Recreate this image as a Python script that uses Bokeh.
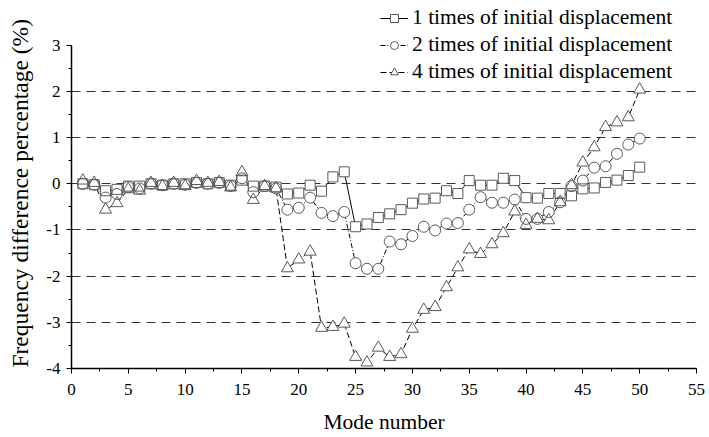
from bokeh.plotting import figure
from bokeh.models import (Range1d, SingleIntervalTicker, FixedTicker, Legend, LegendItem,
                          PrintfTickFormatter)
from bokeh.embed import file_html
from bokeh.resources import INLINE

modes = list(range(1, 51))
s1 = [0.0, -0.02, -0.15, -0.12, -0.05, -0.05, 0.0, -0.03, 0.0, 0.0,
      0.03, 0.0, 0.03, -0.03, 0.08, -0.05, -0.05, -0.07, -0.22, -0.2,
      -0.03, -0.16, 0.15, 0.26, -0.93, -0.87, -0.73, -0.65, -0.56, -0.42,
      -0.33, -0.31, -0.15, -0.21, 0.07, -0.03, -0.03, 0.12, 0.07, -0.3,
      -0.31, -0.21, -0.21, -0.26, -0.11, -0.09, 0.03, 0.08, 0.18, 0.36]
s2 = [0.0, -0.02, -0.3, -0.22, -0.07, -0.1, 0.0, -0.03, 0.0, -0.02,
      0.02, 0.0, 0.02, -0.05, 0.12, -0.18, -0.05, -0.1, -0.56, -0.52,
      -0.3, -0.63, -0.7, -0.61, -1.72, -1.84, -1.84, -1.25, -1.31, -1.13,
      -0.93, -1.01, -0.86, -0.85, -0.56, -0.29, -0.41, -0.41, -0.34, -0.76,
      -0.76, -0.61, -0.4, -0.05, 0.07, 0.35, 0.38, 0.65, 0.85, 0.98]
s3 = [0.07, 0.02, -0.56, -0.42, -0.12, -0.15, 0.02, -0.05, 0.02, -0.05,
      0.06, 0.02, 0.04, -0.08, 0.25, -0.35, -0.05, -0.1, -1.83, -1.64,
      -1.47, -3.12, -3.1, -3.03, -3.75, -3.87, -3.55, -3.75, -3.69, -3.14,
      -2.73, -2.67, -2.24, -1.81, -1.42, -1.52, -1.31, -1.07, -0.6, -0.89,
      -0.76, -0.79, -0.4, -0.03, 0.46, 0.79, 1.23, 1.33, 1.44, 2.04]
labels = ["1 times of initial displacement",
          "2 times of initial displacement",
          "4 times of initial displacement"]
x_title = "Mode number"
y_title = "Frequency difference percentage (%)"

FONT = "Liberation Serif"

p = figure(width=708, height=436, output_backend="svg", toolbar_location=None,
           x_range=Range1d(0, 55), y_range=Range1d(-4, 3.97),
           min_border_left=71, min_border_right=12, min_border_top=0,
           min_border_bottom=61)
p.outline_line_color = None
p.background_fill_color = "white"

# grid
p.xgrid.visible = False
p.ygrid.ticker = FixedTicker(ticks=[-3, -2, -1, 0, 1, 2])
p.ygrid.grid_line_color = "#333333"
p.ygrid.grid_line_width = 1
p.ygrid.grid_line_dash = "9 6"

# axes
p.xaxis.ticker = SingleIntervalTicker(interval=5, num_minor_ticks=2)
p.yaxis.ticker = SingleIntervalTicker(interval=1, num_minor_ticks=2)
p.yaxis.formatter = PrintfTickFormatter(format="%d")
p.yaxis.bounds = (-4, 3)
for ax in (p.xaxis, p.yaxis):
    ax.axis_line_color = "black"
    ax.axis_line_width = 1.5
    ax.major_tick_line_color = "black"
    ax.minor_tick_line_color = "black"
    ax.major_tick_in = 0
    ax.major_tick_out = 5
    ax.minor_tick_in = 0
    ax.minor_tick_out = 3
    ax.major_label_text_font = FONT
    ax.major_label_text_font_size = "17px"
    ax.major_label_text_color = "black"
    ax.axis_label_text_font = FONT
    ax.axis_label_text_font_style = "normal"
    ax.axis_label_text_color = "black"
p.xaxis.axis_label = x_title
p.xaxis.axis_label_text_font_size = "21.5px"
p.xaxis.major_label_standoff = 10
p.xaxis.axis_label_standoff = 12
# trailing no-break spaces shift the rotated title slightly down along the axis
p.yaxis.axis_label = y_title + "\u00a0" * 3
p.yaxis.axis_label_text_font_size = "23.5px"
p.yaxis.major_label_standoff = 6
p.yaxis.axis_label_standoff = 10

series = [(s1, "square", 10, "solid"),
          (s2, "circle", 11, "5 2 1 2"),
          (s3, "triangle", 12, "6 3")]

lines, fills = [], []
for vals, marker, size, dash in series:
    lines.append(p.line(modes, vals, line_color="black", line_width=1, line_dash=dash))
for vals, marker, size, dash in series:
    fills.append(p.scatter(modes, vals, marker=marker, size=size,
                           fill_color="white", line_color=None))
outs = []
for vals, marker, size, dash in series:
    outs.append(p.scatter(modes, vals, marker=marker, size=size,
                          fill_color=None, line_color="#5a5a5a", line_width=1))

items = [LegendItem(label=labels[i], renderers=[lines[i], fills[i], outs[i]])
         for i in range(3)]
legend = Legend(items=items, location=(309, 284), orientation="vertical",
                border_line_color=None, background_fill_alpha=0,
                label_text_font=FONT, label_text_font_size="21.5px",
                label_text_color="black", glyph_width=28, glyph_height=20,
                label_height=20, spacing=2, padding=0, margin=0,
                label_standoff=4)
p.add_layout(legend, "center")

open("out.html", "w").write(file_html(p, INLINE))
